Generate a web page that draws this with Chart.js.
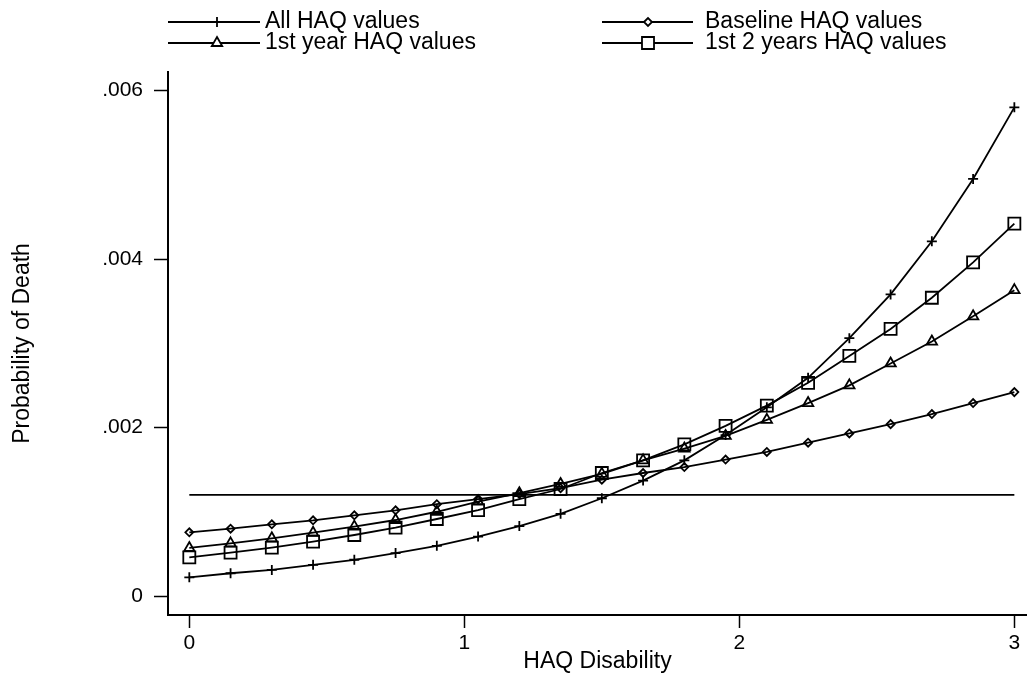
<!DOCTYPE html>
<html>
<head>
<meta charset="utf-8">
<script src="https://cdn.jsdelivr.net/npm/chart.js@4"></script>
<style>
    html, body { margin: 0; padding: 0; background: #fff; }
</style>
</head>
<body>
<canvas id="chart" width="1027" height="673"></canvas>
<script>
// HAQ disability score (x) and predicted probability of death per model
let haq = [0, 0.15, 0.3, 0.45, 0.6, 0.75, 0.9, 1.05, 1.2, 1.35, 1.5, 1.65, 1.8, 1.95, 2.1, 2.25, 2.4, 2.55, 2.7, 2.85, 3];
let allHaq = [0.000222, 0.00027, 0.00031, 0.00037, 0.00043, 0.00051, 0.000595, 0.000705, 0.00083, 0.000975, 0.00116, 0.00137, 0.00161, 0.00191, 0.00224, 0.00259, 0.00306, 0.00358, 0.00421, 0.00495, 0.0058];
let baseline = [0.000756, 0.000799, 0.000851, 0.000898, 0.000958, 0.001017, 0.00109, 0.00115, 0.00121, 0.00128, 0.00138, 0.00146, 0.00153, 0.00162, 0.00171, 0.00182, 0.00193, 0.00204, 0.00216, 0.00229, 0.00242];
let firstYear = [0.00057, 0.000625, 0.000685, 0.000751, 0.000823, 0.000902, 0.001, 0.00112, 0.00122, 0.00133, 0.00145, 0.00161, 0.00175, 0.0019, 0.00209, 0.00229, 0.0025, 0.00276, 0.00302, 0.00332, 0.00363];
let firstTwoYears = [0.000459, 0.000514, 0.000574, 0.000645, 0.000724, 0.000811, 0.000914, 0.00102, 0.00115, 0.00127, 0.00146, 0.00161, 0.0018, 0.00202, 0.00226, 0.00253, 0.00285, 0.00317, 0.00354, 0.00396, 0.00442];
let refLevel = 0.0012;
let refRange = [0, 3];

let xTicks = [0, 1, 2, 3];
let yTicks = [0, 0.002, 0.004, 0.006];

const FONT = "'Liberation Sans', Arial, sans-serif";

function pts(ys) {
    return ys.map((y, i) => ({x: haq[i], y: y}));
}

function series(label, ys, style, radius) {
    return {
        label: label,
        data: pts(ys),
        borderColor: '#000',
        borderWidth: 1.8,
        pointStyle: style,
        pointRadius: radius,
        pointBorderColor: '#000',
        pointBorderWidth: 1.8,
        pointBackgroundColor: 'rgba(0,0,0,0)',
        tension: 0,
        fill: false
    };
}

// two-column legend above the plot: line with the series marker, then text
const legendPlugin = {
    id: 'stataLegend',
    afterDraw(chart) {
        const ctx = chart.ctx;
        const cols = [{x1: 168, x2: 260, mx: 217, tx: 265}, {x1: 602, x2: 693, mx: 648, tx: 705}];
        const rows = [22, 43];
        ctx.save();
        [0, 1, 2, 3].forEach((di, k) => {
            const ds = chart.data.datasets[di];
            const c = cols[k % 2];
            const y = rows[Math.floor(k / 2)];
            ctx.strokeStyle = '#000';
            ctx.lineWidth = 1.8;
            ctx.beginPath();
            ctx.moveTo(c.x1, y);
            ctx.lineTo(c.x2, y);
            ctx.stroke();
            ctx.fillStyle = '#fff';
            Chart.helpers.drawPoint(ctx, {
                pointStyle: ds.pointStyle,
                radius: ds.pointRadius,
                rotation: 0,
                borderWidth: 1.8
            }, c.mx, y);
            ctx.fillStyle = '#000';
            ctx.font = '23px ' + FONT;
            ctx.textBaseline = 'middle';
            ctx.textAlign = 'left';
            ctx.fillText(ds.label, c.tx, y);
        });
        ctx.restore();
    }
};

let chart = new Chart(document.getElementById("chart"), {
    type: 'line',
    data: {
        datasets: [
            series("All HAQ values", allHaq, 'cross', 5),
            series("Baseline HAQ values", baseline, 'rectRot', 4),
            series("1st year HAQ values", firstYear, 'triangle', 6),
            series("1st 2 years HAQ values", firstTwoYears, 'rect', 8.5),
            {
                label: "reference",
                data: refRange.map(x => ({x: x, y: refLevel})),
                borderColor: '#000',
                borderWidth: 1.8,
                pointRadius: 0,
                tension: 0
            }
        ]
    },
    options: {
        responsive: false,
        animation: false,
        devicePixelRatio: 1,
        layout: {autoPadding: false, padding: {top: 72, right: 0, bottom: 0, left: 0}},
        plugins: {
            legend: {display: false},
            tooltip: {enabled: false}
        },
        scales: {
            x: {
                type: 'linear',
                min: -0.0775,
                max: 3.046,
                afterBuildTicks: s => { s.ticks = xTicks.map(v => ({value: v})); },
                afterFit: s => { s.height = 58; s.paddingLeft = 0; s.paddingRight = 0; },
                grid: {drawOnChartArea: false, tickLength: 13, tickWidth: 1.5, tickColor: '#000'},
                border: {display: true, color: '#000', width: 2},
                ticks: {color: '#000', padding: 3, font: {family: FONT, size: 21}, maxRotation: 0},
                title: {
                    display: true,
                    text: "HAQ Disability",
                    color: '#000',
                    font: {family: FONT, size: 23, lineHeight: 1},
                    padding: {top: 0, bottom: 0}
                }
            },
            y: {
                type: 'linear',
                min: -0.0002255,
                max: 0.0062196,
                afterBuildTicks: s => { s.ticks = yTicks.map(v => ({value: v})); },
                afterFit: s => { s.width = 168; s.paddingTop = 0; s.paddingBottom = 0; },
                grid: {drawOnChartArea: false, tickLength: 14, tickWidth: 1.5, tickColor: '#000'},
                border: {display: true, color: '#000', width: 2},
                ticks: {
                    color: '#000',
                    padding: 11,
                    font: {family: FONT, size: 21},
                    callback: v => v === 0 ? '0' : v.toFixed(3).replace(/^0/, '')
                },
                title: {
                    display: true,
                    text: "Probability of Death",
                    color: '#000',
                    font: {family: FONT, size: 23, lineHeight: 1},
                    padding: {top: 11, bottom: 0}
                }
            }
        }
    },
    plugins: [legendPlugin]
});
</script>
</body>
</html>
